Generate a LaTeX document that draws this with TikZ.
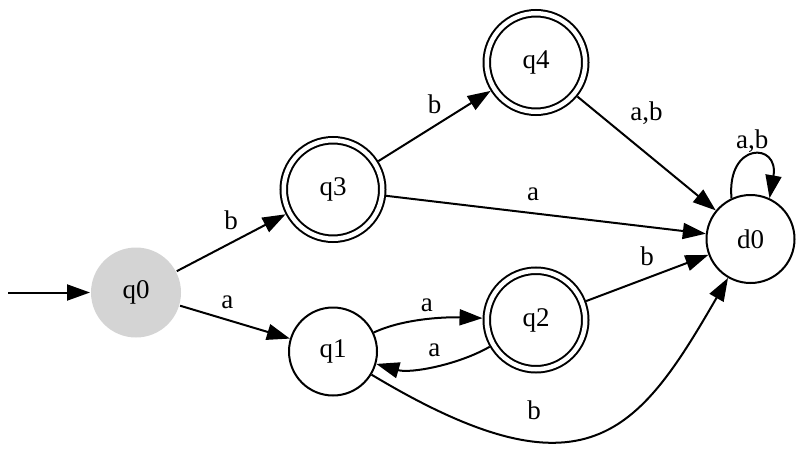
\documentclass[tikz,border=0pt]{standalone}
\usepackage{fontspec}
\setmainfont{Liberation Serif}
\usepackage{tikz}
\usetikzlibrary{positioning}
\usetikzlibrary{arrows.meta}
\usepackage{color}
\definecolor{Silver}{rgb}{0.83,0.83,0.83}
\tikzset{
every picture/.style={line width=2pt},
every node/.style={font=\fontsize{27}{32}\selectfont},
graynode/.style={circle, fill=Silver, minimum size=90pt, inner sep=0pt},
whitenode/.style={circle, draw=black, minimum size=88pt, inner sep=0pt},
doublenode/.style={circle, draw=black, double, double distance=4.5pt, minimum size=98.5pt, inner sep=0pt, outer sep=4.25pt},
edgelabel/.style={inner sep=2pt},
>={Triangle[length=23pt, width=16pt]}
}

\begin{document}
\begin{tikzpicture}[on grid]
\useasboundingbox (0,0) rectangle (800pt,-450pt);
%Nodes
\node [graynode] (q0) at (136pt,-292.5pt) {q0};
\node [doublenode] (q3) [above right= 103pt and 197pt of q0] {q3};
\node [whitenode] (q1) [below right= 59pt and 197pt of q0] {q1};
\node [doublenode] (q4) [above right= 127pt and 203pt of q3] {q4};
\node [doublenode] (q2) [above right= 31.5pt and 203pt of q1] {q2};
\node [whitenode] (d0) [above right= 81pt and 214.5pt of q2] {d0};
\coordinate [left= 128pt of q0] (start);

%Lines
\draw[->] (start) -- (q0);
\path[->] (q0) edge node[edgelabel, above=10pt]{b} (q3);
\path[->] (q0) edge node[edgelabel, pos=0.43, above=8pt]{a} (q1);
\path[->] (q3) edge node[edgelabel, above=9pt]{b} (q4);
\path[->] (q3) edge node[edgelabel, pos=0.46, above=9pt]{a} (d0);
\path[->] (q4) edge node[edgelabel, above=26pt]{a,b} (d0);
\path[->] (q2) edge node[edgelabel, above=9pt]{b} (d0);
\path[->] (q1) edge [out=25, in=178, looseness=0.8] node[edgelabel, above=5pt]{a} (q2);
\path[->] (q2) edge [out=210, in=-16, looseness=0.8] node[edgelabel, above=6pt]{a} (q1);
\path[->] (q1) edge [out=-31, in=240, out distance=250pt, in distance=180pt] node[edgelabel, pos=0.32, above=18pt]{b} (d0);
\path[->] (d0.115) edge [out=95, in=80, min distance=57pt] node[edgelabel, above]{a,b} (d0.65);

\end{tikzpicture}
\end{document}
